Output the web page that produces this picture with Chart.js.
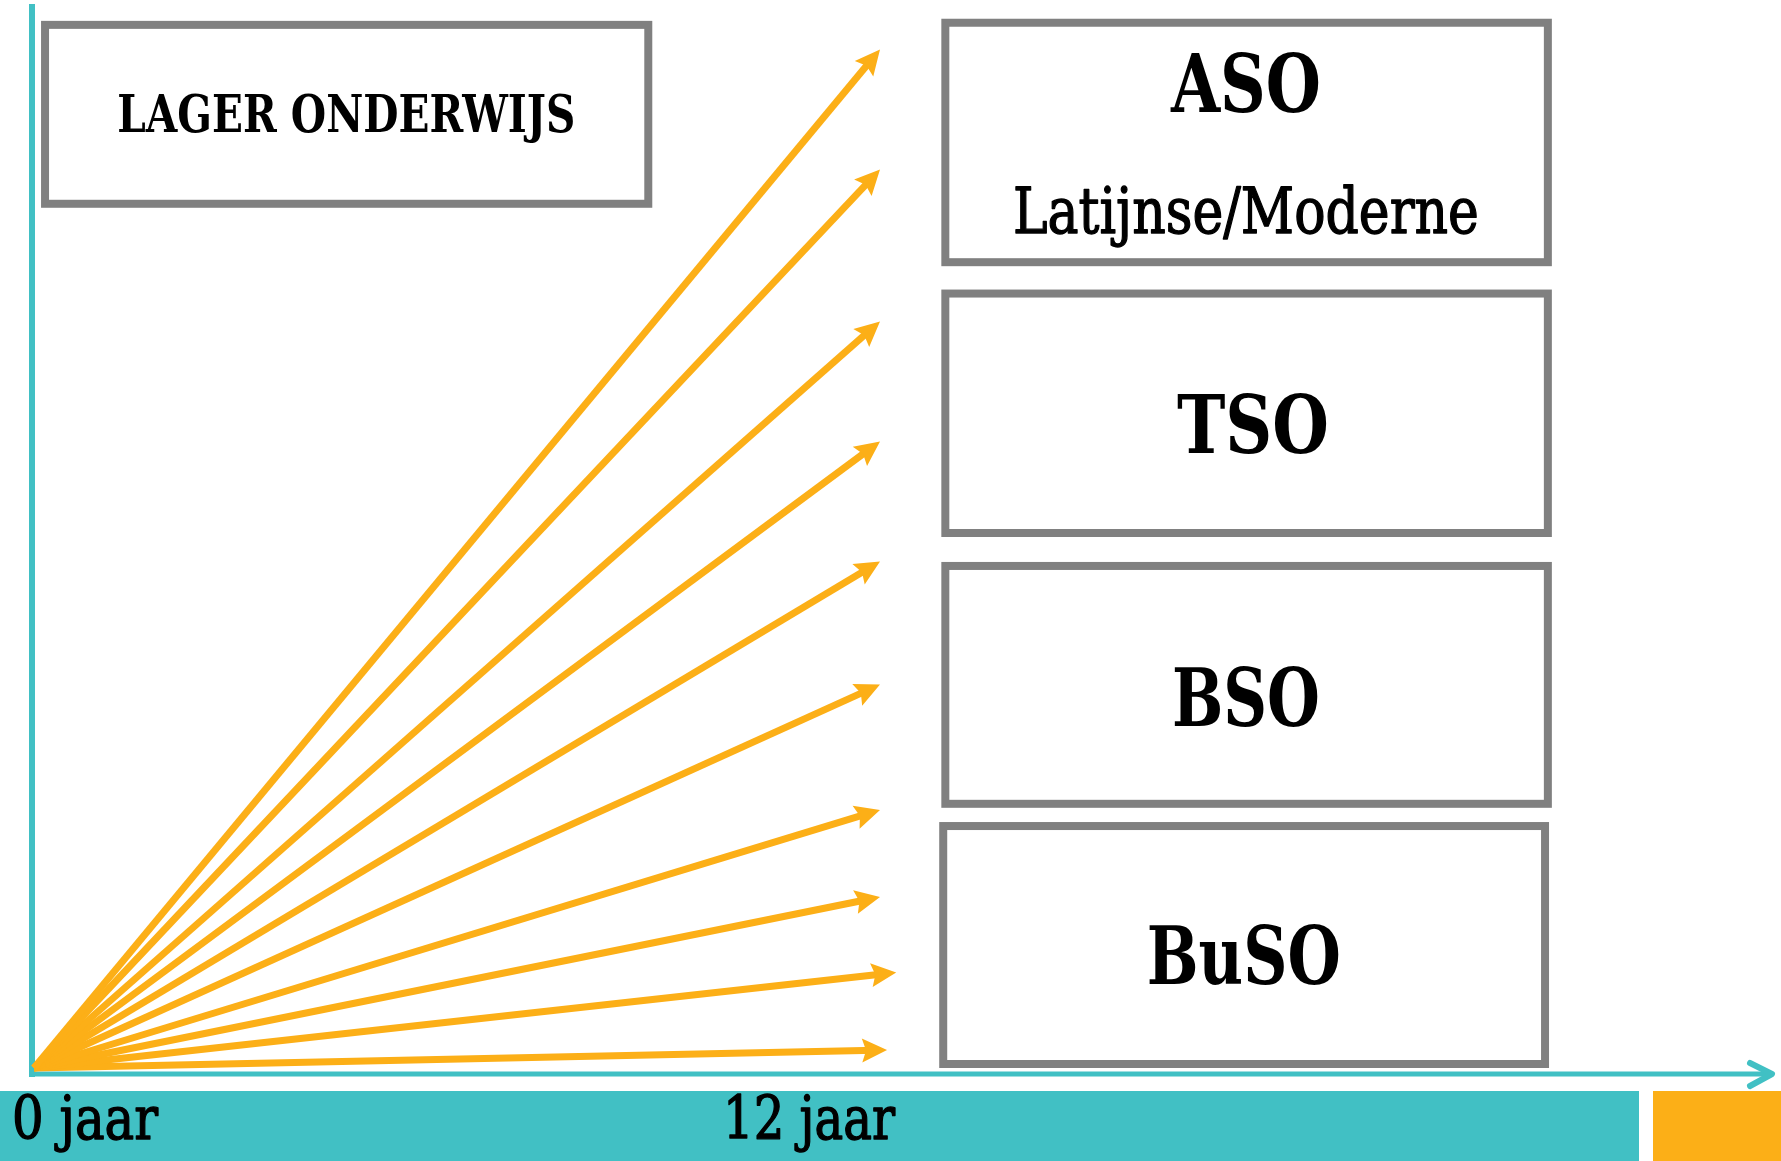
<!DOCTYPE html>
<html>
<head>
<meta charset="utf-8">
<script src="https://cdn.jsdelivr.net/npm/chart.js@4.4.1/dist/chart.umd.min.js"></script>
<style>
  html, body { margin: 0; padding: 0; background: #fff; }
  #wrap { position: relative; width: 1781px; height: 1161px; }
</style>
</head>
<body>
<div id="wrap"><canvas id="schoolChart"></canvas></div>
<script>
// waar elke pijl eindigt: leeftijd (jaar) en hoogte (0-100)
const arrowEndAge = [12, 12, 12, 12, 12, 12, 12, 12, 12.23, 12.1];
const arrowEndLevel = [95.9, 84.6, 70.3, 59.0, 47.7, 36.1, 24.3, 16.1, 9.0, 1.7];
const ageTicks = [0, 12];
const ageTickLabels = ['0 jaar', '12 jaar'];
const boxLabels = ['LAGER ONDERWIJS', 'ASO', 'TSO', 'BSO', 'BuSO'];
const asoSubLabel = 'Latijnse/Moderne';

const ORANGE = '#fcaf17';
const TEAL = '#41c0c4';
const GREY = '#808080';
const FAMILY = "'DejaVu Serif Condensed', 'DejaVu Serif', serif";

// kaders in schaal-eenheden (x = jaar, y = hoogte)
const boxes = [
  { x0: 0.10, x1: 8.77, y0: 81.0, y1: 98.6 },
  { x0: 12.87, x1: 21.53, y0: 75.5, y1: 98.8 },
  { x0: 12.87, x1: 21.53, y0: 50.0, y1: 73.3 },
  { x0: 12.87, x1: 21.53, y0: 24.5, y1: 47.65 },
  { x0: 12.84, x1: 21.49, y0: 0.0, y1: 23.16 }
];
// tekst in de kaders: midden x, basislijn y, lettergrootte, max breedte
const boxText = [
  { x: 4.43, y: 88.1, size: 53, w: 458 },
  { x: 17.19, y: 90.0, size: 81, w: 150 },
  { x: 17.29, y: 57.9, size: 81, w: 152 },
  { x: 17.19, y: 32.2, size: 81, w: 148 },
  { x: 17.16, y: 7.9, size: 81, w: 194 }
];

// heavy = dunne omlijning erbij, de gewone letters van het origineel zijn wat zwaarder
function text(ctx, str, x, y, font, maxW, align, heavy) {
  ctx.font = font;
  ctx.fillStyle = '#000';
  ctx.strokeStyle = '#000';
  ctx.lineWidth = 1.3;
  ctx.lineJoin = 'round';
  ctx.textAlign = align || 'center';
  ctx.textBaseline = 'alphabetic';
  const w = ctx.measureText(str).width;
  const mw = (maxW && w > maxW) ? maxW : undefined;
  if (mw) ctx.fillText(str, x, y, mw); else ctx.fillText(str, x, y);
  if (heavy) {
    if (mw) ctx.strokeText(str, x, y, mw); else ctx.strokeText(str, x, y);
  }
}

const backdrop = {
  id: 'backdrop',
  beforeDatasetsDraw(chart) {
    const ctx = chart.ctx;
    const sx = chart.scales.x, sy = chart.scales.y;
    const ox = sx.getPixelForValue(0), oy = sy.getPixelForValue(0);
    ctx.save();
    // onderste balken
    const barTop = oy + 23;
    ctx.fillStyle = TEAL;
    ctx.fillRect(0, barTop, 1639, chart.height - barTop);
    ctx.fillStyle = ORANGE;
    ctx.fillRect(1653, barTop, chart.width - 1653, chart.height - barTop);
    // assen
    ctx.strokeStyle = TEAL;
    ctx.lineCap = 'butt';
    ctx.lineWidth = 6;
    ctx.beginPath();
    ctx.moveTo(ox - 2, 4);
    ctx.lineTo(ox - 2, oy + 9);
    ctx.stroke();
    ctx.lineWidth = 5;
    ctx.beginPath();
    ctx.moveTo(ox - 5, oy + 6);
    ctx.lineTo(chart.width - 9, oy + 6);
    ctx.stroke();
    ctx.lineWidth = 6;
    ctx.lineCap = 'round';
    ctx.lineJoin = 'round';
    ctx.beginPath();
    ctx.moveTo(chart.width - 31, oy - 5);
    ctx.lineTo(chart.width - 9, oy + 6);
    ctx.lineTo(chart.width - 31, oy + 18);
    ctx.stroke();
    // leeftijden
    ageTicks.forEach((age, i) => {
      const px = sx.getPixelForValue(age);
      if (i === 0) text(ctx, ageTickLabels[i], px - 22, oy + 71, '59px ' + FAMILY, 146, 'left', true);
      else text(ctx, ageTickLabels[i], px + 15, oy + 71, '59px ' + FAMILY, 172, 'right', true);
    });
    // kaders
    ctx.strokeStyle = GREY;
    ctx.lineWidth = 8;
    ctx.lineJoin = 'miter';
    boxes.forEach(b => {
      const x0 = sx.getPixelForValue(b.x0), x1 = sx.getPixelForValue(b.x1);
      const y0 = sy.getPixelForValue(b.y1), y1 = sy.getPixelForValue(b.y0);
      ctx.strokeRect(x0 + 4, y0 + 4, x1 - x0 - 8, y1 - y0 - 8);
    });
    boxLabels.forEach((lbl, i) => {
      const t = boxText[i];
      text(ctx, lbl, sx.getPixelForValue(t.x), sy.getPixelForValue(t.y),
        'bold ' + t.size + 'px ' + FAMILY, t.w);
    });
    text(ctx, asoSubLabel, sx.getPixelForValue(17.19), sy.getPixelForValue(78.6),
      '64px ' + FAMILY, 466, 'center', true);
    ctx.restore();
  }
};

const arrowTips = {
  id: 'arrowTips',
  beforeDatasetDraw(chart, args) {
    const pts = chart.getDatasetMeta(args.index).data;
    const tip = pts[pts.length - 1];
    const ctx = chart.ctx;
    ctx.save();
    ctx.beginPath();
    ctx.rect(0, 0, chart.width, chart.height);
    ctx.arc(tip.x, tip.y, 13, 0, Math.PI * 2);
    ctx.clip('evenodd');
  },
  afterDatasetDraw(chart, args) {
    const ctx = chart.ctx;
    ctx.restore();
    const pts = chart.getDatasetMeta(args.index).data;
    const a = pts[0], b = pts[pts.length - 1];
    const ang = Math.atan2(b.y - a.y, b.x - a.x);
    ctx.save();
    ctx.translate(b.x, b.y);
    ctx.rotate(ang);
    ctx.beginPath();
    ctx.moveTo(0, 0);
    ctx.lineTo(-25, -12);
    ctx.lineTo(-21, 0);
    ctx.lineTo(-25, 12);
    ctx.closePath();
    ctx.fillStyle = chart.data.datasets[args.index].borderColor;
    ctx.fill();
    ctx.restore();
  }
};

const datasets = arrowEndAge.map((age, i) => ({
  data: [{ x: 0, y: 0 }, { x: age, y: arrowEndLevel[i] }],
  borderColor: ORANGE,
  borderWidth: 7,
  borderCapStyle: 'butt',
  pointRadius: 0,
  showLine: true
}));

new Chart(document.getElementById('schoolChart'), {
  type: 'scatter',
  data: { datasets: datasets },
  options: {
    responsive: true,
    maintainAspectRatio: false,
    animation: false,
    layout: { padding: 0 },
    plugins: {
      legend: { display: false },
      tooltip: { enabled: false },
      title: { display: false }
    },
    scales: {
      x: { type: 'linear', min: -34 / 70.5, max: (1781 - 34) / 70.5, display: false },
      y: { type: 'linear', min: -(1161 - 1068) / 10.62, max: 1068 / 10.62, display: false }
    }
  },
  plugins: [backdrop, arrowTips]
});
</script>
</body>
</html>
